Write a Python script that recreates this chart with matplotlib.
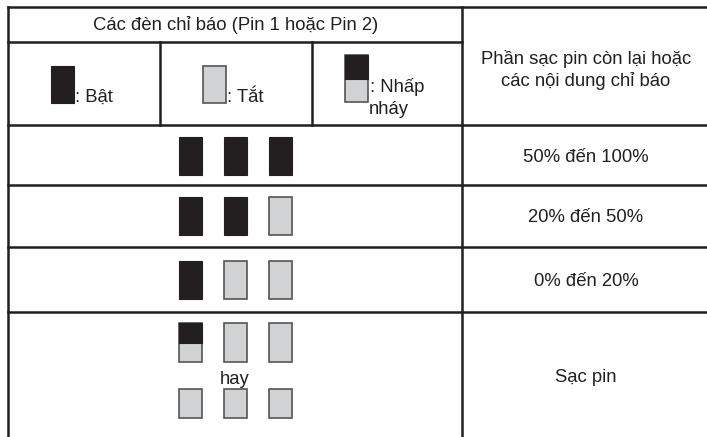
import matplotlib.pyplot as plt
from matplotlib.patches import Rectangle

# table content
header_left = 'Các đèn chỉ báo (Pin 1 hoặc Pin 2)'
header_right = 'Phần sạc pin còn lại hoặc\ncác nội dung chỉ báo'
legend_states = ['on', 'off', 'blink']
legend_labels = [': Bật', ': Tắt', ': Nhấp']
row_labels = ['50% đến 100%', '20% đến 50%', '0% đến 20%', 'Sạc pin']
row_states = [['on', 'on', 'on'],
              ['on', 'on', 'off'],
              ['on', 'off', 'off']]
charge_top = ['blink', 'off', 'off']
charge_bottom = ['off', 'off', 'off']

DARK = '#231f20'
LIGHT = '#d1d2d4'
EDGE = '#555555'

plt.rcParams['font.family'] = ['Liberation Sans', 'DejaVu Sans']

fig = plt.figure(figsize=(7.07, 4.37), dpi=100)
ax = fig.add_axes([0, 0, 1, 1])
ax.set_xlim(0, 707)
ax.set_ylim(437, 0)
ax.axis('off')


def lamp(x, y, state, w=23, h=38):
    # x, y = top-left corner
    if state == 'on':
        ax.add_patch(Rectangle((x, y), w, h, facecolor=DARK, edgecolor=DARK, lw=0.8))
    elif state == 'off':
        ax.add_patch(Rectangle((x, y), w, h, facecolor=LIGHT, edgecolor=EDGE, lw=1.2))
    else:
        ax.add_patch(Rectangle((x, y), w, h, facecolor=LIGHT, edgecolor=EDGE, lw=1.2))
        ax.add_patch(Rectangle((x, y), w, h * 0.52, facecolor=DARK, edgecolor=DARK, lw=0.8))


# grid lines
lw = 1.8
ax.plot([8, 707], [7, 7], color=DARK, lw=lw)
ax.plot([8, 462], [42, 42], color=DARK, lw=lw)
for yy in [125, 185, 247, 312]:
    ax.plot([8, 707], [yy, yy], color=DARK, lw=lw)
ax.plot([8, 8], [7, 437], color=DARK, lw=lw)
ax.plot([462, 462], [7, 437], color=DARK, lw=lw)
for xx in [160, 312]:
    ax.plot([xx, xx], [42, 125], color=DARK, lw=lw)

fs = 13.3
ax.text(236, 25, header_left, ha='center', va='center', fontsize=fs, color=DARK)
ax.text(586, 70, header_right, ha='center', va='center', fontsize=fs,
        color=DARK, linespacing=1.35)

# legend row
lamp(51, 66, legend_states[0], h=37)
ax.text(75, 97, legend_labels[0], ha='left', va='center', fontsize=fs, color=DARK)
lamp(203, 66, legend_states[1], h=37)
ax.text(227, 98, legend_labels[1], ha='left', va='center', fontsize=fs, color=DARK)
lamp(345, 55, legend_states[2], h=47)
ax.text(370, 87, legend_labels[2], ha='left', va='center', fontsize=fs, color=DARK)
ax.text(389, 110, 'nháy', ha='center', va='center', fontsize=fs, color=DARK)

# indicator rows
centers = [190, 235, 280]
row_tops = [137, 197, 261]
for top, states in zip(row_tops, row_states):
    for cx, st in zip(centers, states):
        lamp(cx - 11.5, top, st)

for cx, st in zip(centers, charge_top):
    lamp(cx - 11.5, 323, st, h=39)
ax.text(235, 379, 'hay', ha='center', va='center', fontsize=fs, color=DARK)
for cx, st in zip(centers, charge_bottom):
    lamp(cx - 11.5, 389, st, h=29)

row_y = [158, 218, 281, 377]
for yy, lab in zip(row_y, row_labels):
    ax.text(586, yy, lab, ha='center', va='center', fontsize=fs, color=DARK)

fig.savefig('out.png', dpi=100, facecolor='white')
